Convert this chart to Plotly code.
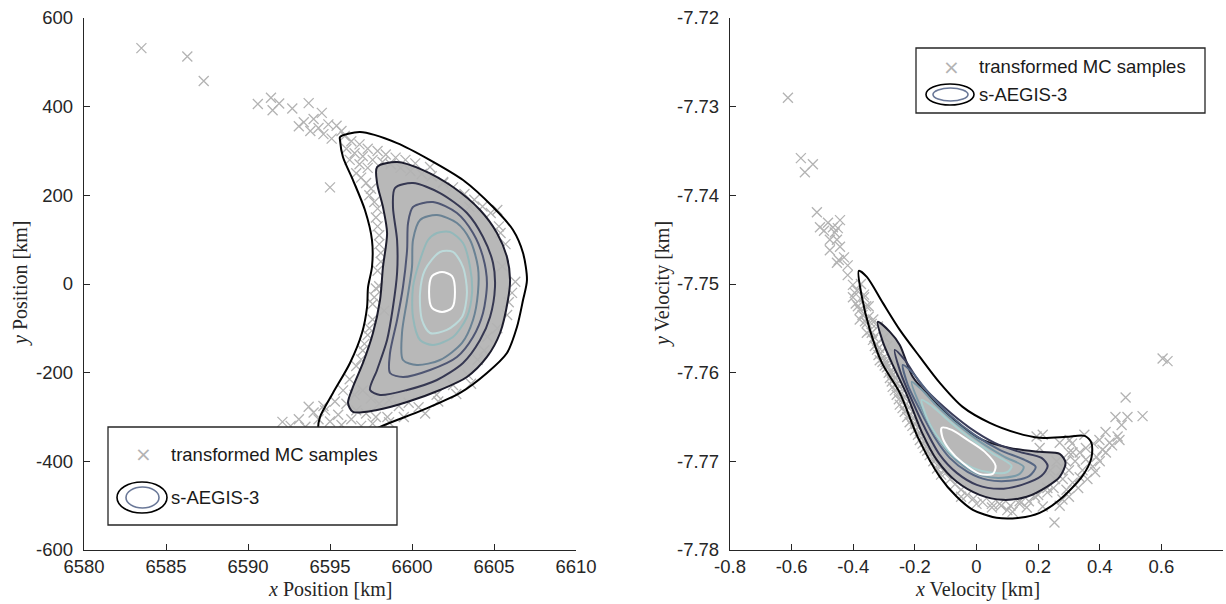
import plotly.graph_objects as go

# ---------------- Left panel: position ----------------
pos_sample_x = [6583.5, 6586.3, 6587.3, 6590.6, 6591.4, 6591.5, 6591.9, 6592.7, 6593.7, 6594.5, 6593.1, 6593.4,
                6594.0, 6593.8, 6594.3, 6594.9, 6595.4, 6595.7, 6594.6, 6595.1, 6595.9, 6595.0,
                6596.3, 6596.8, 6597.3, 6597.9, 6598.4, 6599.0, 6599.6, 6600.2, 6596.0, 6596.5, 6597.0, 6597.6,
                6598.2, 6596.2, 6596.8, 6597.3, 6596.6, 6596.9, 6597.2, 6597.5, 6597.4, 6597.7, 6598.7, 6599.3,
                6599.9, 6600.6, 6601.2, 6601.9, 6602.5, 6603.2, 6603.8, 6604.3, 6604.8, 6605.3, 6605.4, 6605.7,
                6601.1, 6601.9, 6603.5, 6605.2,
                6606.3, 6605.9, 6606.1, 6605.5, 6605.8, 6605.2, 6604.6, 6604.0, 6604.4, 6603.4, 6602.5, 6601.5,
                6597.8, 6598.0, 6598.1, 6597.9, 6597.8, 6597.6, 6597.6, 6597.3, 6597.0, 6596.6, 6596.2, 6595.8,
                6595.3, 6594.7, 6594.3, 6598.0, 6598.3,
                6596.5, 6597.0, 6597.5, 6598.0, 6598.6, 6599.2, 6599.8, 6600.4, 6596.0, 6596.6, 6597.2, 6597.8,
                6598.5, 6595.5, 6595.0, 6595.7, 6596.3, 6592.1, 6593.1, 6593.7, 6594.0, 6594.6, 6593.5, 6592.6,
                6596.9, 6597.6, 6598.6, 6599.5, 6600.8, 6601.6, 6602.7, 6603.6,
                6597.9, 6598.0, 6597.7, 6597.4, 6597.1, 6596.9, 6598.1, 6597.9]
pos_sample_y = [532, 513, 458, 406, 420, 392, 407, 396, 408, 386, 356, 365,
                372, 345, 352, 360, 357, 345, 338, 328, 334, 218,
                322, 315, 305, 300, 292, 285, 280, 272, 305, 295, 288, 280,
                275, 280, 270, 262, 250, 240, 228, 215, 200, 185, 270, 262,
                255, 248, 243, 230, 218, 203, 190, 175, 160, 130, 115, 90,
                264, 228, 174, 167,
                5, -41, -20, 40, -70, -100, -119, -171, -150, -205, -228, -250,
                150, 110, 70, 30, -10, -45, -80, -115, -150, -185, -215, -240,
                -265, -285, -305, -5, -60,
                -250, -240, -258, -270, -262, -275, -268, -278, -270, -285, -292, -300,
                -300, -295, -310, -318, -305, -311, -305, -277, -290, -275, -322, -320,
                -320, -315, -312, -300, -292, -265, -248, -225,
                130, 90, -30, -100, -135, -170, 50, 170]

# density contour levels (outer -> inner)
pos_levels_x = [
    [6595.61, 6596.83, 6599.09, 6601.10, 6603.11, 6604.94, 6606.16, 6606.77, 6607.01, 6606.77, 6606.40, 6605.79,
     6604.57, 6602.93, 6600.67, 6598.05, 6596.83, 6595.30, 6594.39, 6594.27, 6594.39, 6595.18, 6596.22, 6596.95,
     6597.26, 6597.32, 6597.56, 6597.56, 6597.13, 6596.40, 6595.79, 6595.61],
    [6597.87, 6599.09, 6600.67, 6602.50, 6604.15, 6605.18, 6605.79, 6605.98, 6605.85, 6605.37, 6604.57, 6603.35,
     6601.71, 6599.70, 6597.87, 6596.40, 6596.10, 6596.40, 6597.01, 6597.62, 6598.05, 6598.23, 6598.48, 6598.23,
     6597.87],
    [6598.96, 6600.06, 6601.71, 6603.35, 6604.33, 6604.94, 6605.06, 6604.76, 6604.15, 6603.11, 6601.52, 6599.70,
     6598.05, 6597.44, 6597.87, 6598.48, 6598.84, 6599.09, 6599.09, 6598.84],
    [6600.06, 6601.28, 6602.74, 6603.72, 6604.33, 6604.57, 6604.33, 6603.72, 6602.74, 6601.10, 6599.45, 6598.66,
     6598.66, 6599.09, 6599.45, 6599.70, 6599.76],
    [6600.49, 6601.52, 6602.74, 6603.54, 6604.02, 6604.02, 6603.72, 6603.05, 6601.71, 6600.30, 6599.45, 6599.39,
     6599.70, 6600.00, 6600.06],
    [6601.52, 6602.32, 6603.11, 6603.54, 6603.66, 6603.35, 6602.50, 6601.28, 6600.49, 6600.06, 6600.06, 6600.49,
     6600.98],
    [6601.71, 6602.50, 6603.11, 6603.35, 6603.05, 6602.13, 6601.10, 6600.61, 6600.49, 6600.79],
    [6601.83, 6602.44, 6602.62, 6602.44, 6601.83, 6601.22, 6601.04, 6601.22],
]
pos_levels_y = [
    [331.5, 342.7, 317.9, 279.6, 234.5, 173.6, 121.8, 69.9, 9.0, -36.1, -97.0, -155.6,
     -200.7, -245.8, -284.1, -322.4, -347, -363, -352, -329, -299.9, -245.8, -178.1, -110.5,
     -51.9, -6.8, 38.3, 99.2, 166.9, 234.5, 286.4, 324.7],
    [263.8, 275.1, 257.0, 218.7, 166.9, 115.0, 60.9, 9.0, -36.1, -110.5, -164.6, -209.7,
     -239.0, -266.1, -284.1, -288.6, -268.3, -232.2, -178.1, -110.5, -36.1, 38.3, 115.0, 173.6,
     227.7],
    [216.5, 227.7, 205.2, 160.1, 106.0, 47.4, -6.8, -74.4, -126.3, -178.1, -216.5, -239.0,
     -250.3, -239.0, -193.9, -126.3, -51.9, 24.8, 99.2, 173.6],
    [173.6, 184.9, 160.1, 115.0, 60.9, 2.3, -65.4, -119.5, -164.6, -193.9, -209.7, -200.7,
     -155.6, -81.2, -6.8, 76.7, 137.5],
    [144.3, 155.6, 137.5, 99.2, 38.3, -20.3, -81.2, -133.0, -171.4, -182.6, -171.4, -110.5,
     -36.1, 38.3, 99.2],
    [115.0, 117.3, 92.4, 38.3, -20.3, -74.4, -119.5, -137.5, -126.3, -74.4, -6.8, 54.1,
     99.2],
    [72.2, 72.2, 38.3, -20.3, -74.4, -103.7, -110.5, -81.2, -20.3, 31.6],
    [27.1, 18.0, -18.0, -54.1, -63.1, -54.1, -18.0, 18.0],
]
pos_level_colors = ["#000000", "#1d1d2e", "#363852", "#4f5673", "#6a8294", "#93b8ba", "#bcdada", "#ffffff"]

# ---------------- Right panel: velocity ----------------
vel_sample_x = [-0.612, -0.570, -0.557, -0.531, -0.518, -0.508, -0.482, -0.466, -0.443, -0.450, -0.476, -0.453,
                -0.443, -0.476, -0.453, -0.447, -0.418, -0.418, -0.401, -0.388, -0.430, -0.460, -0.495,
                -0.395, -0.401, -0.392, -0.385, -0.379, -0.379, -0.370, -0.362, -0.356, -0.356, -0.345, -0.336,
                -0.330, -0.323, -0.318, -0.314, -0.305, -0.298, -0.291, -0.285, -0.281, -0.275, -0.272, -0.265,
                -0.259, -0.252, -0.249, -0.240, -0.233, -0.225, -0.217, -0.208, -0.200, -0.190, -0.184, -0.175,
                -0.168, -0.160, -0.152, -0.140, -0.128, -0.115,
                -0.365, -0.350, -0.335, -0.320, -0.300, -0.290, -0.275, -0.260,
                -0.340, -0.325, -0.310, -0.295, -0.280, -0.265, -0.250, -0.235, -0.220, -0.205, -0.190, -0.175,
                -0.160, -0.145, -0.130, -0.115, -0.100, -0.085, -0.070, -0.050, -0.030, -0.010, 0.020, 0.050,
                0.080, 0.110, 0.140, 0.170, 0.200, 0.230, 0.255, 0.275, 0.290, 0.300, 0.310,
                -0.375, -0.365, -0.358, -0.350, -0.340,
                -0.332, -0.317, -0.302, -0.287, -0.272, -0.257, -0.242, -0.227, -0.212, -0.197, -0.182, -0.167,
                -0.152, -0.137, -0.122, -0.107,
                -0.050, 0.000, 0.050, 0.100, 0.117, 0.163, 0.215, 0.075, 0.140, 0.190, 0.230,
                0.604, 0.620, 0.484, 0.451, 0.490, 0.539, 0.471, 0.419, 0.458, 0.399, 0.432, 0.464,
                0.409, 0.390, 0.367, 0.377, 0.344, 0.355, 0.335, 0.312, 0.292, 0.279, 0.253, 0.195,
                0.215, 0.205, 0.270, 0.302, 0.312, 0.335, 0.355, 0.380, 0.400, 0.385, 0.360, 0.330,
                0.300, 0.270, 0.420, 0.440, 0.350, 0.320, 0.300, 0.280, 0.250, 0.260, 0.240]
vel_sample_y = [-7.7290, -7.7358, -7.7374, -7.7365, -7.7419, -7.7436, -7.7431, -7.7436, -7.7428, -7.7437, -7.7450, -7.7450,
                -7.7458, -7.7462, -7.7476, -7.7473, -7.7479, -7.7490, -7.7501, -7.7507, -7.7470, -7.7442, -7.7440,
                -7.7510, -7.7515, -7.7522, -7.7525, -7.7529, -7.7540, -7.7535, -7.7542, -7.7544, -7.7555, -7.7552, -7.7563,
                -7.7570, -7.7574, -7.7580, -7.7586, -7.7588, -7.7592, -7.7594, -7.7600, -7.7606, -7.7610, -7.7616, -7.7620,
                -7.7625, -7.7630, -7.7636, -7.7640, -7.7644, -7.7650, -7.7656, -7.7660, -7.7665, -7.7670, -7.7676, -7.7680,
                -7.7685, -7.7688, -7.7693, -7.7700, -7.7708, -7.7715,
                -7.7515, -7.7525, -7.7540, -7.7548, -7.7560, -7.7570, -7.7585, -7.7595,
                -7.7555, -7.7568, -7.7578, -7.7588, -7.7598, -7.7606, -7.7616, -7.7628, -7.7640, -7.7652, -7.7662, -7.7672,
                -7.7682, -7.7690, -7.7698, -7.7706, -7.7713, -7.7720, -7.7726, -7.7732, -7.7738, -7.7742, -7.7746, -7.7748,
                -7.7750, -7.7750, -7.7748, -7.7745, -7.7738, -7.7730, -7.7720, -7.7710, -7.7700, -7.7690, -7.7680,
                -7.7500, -7.7512, -7.7525, -7.7537, -7.7545,
                -7.7560, -7.7572, -7.7583, -7.7593, -7.7602, -7.7612, -7.7623, -7.7635, -7.7647, -7.7658, -7.7668, -7.7678,
                -7.7687, -7.7695, -7.7703, -7.7710,
                -7.7740, -7.7748, -7.7752, -7.7755, -7.7757, -7.7752, -7.7751, -7.7748, -7.7745, -7.7740, -7.7735,
                -7.7584, -7.7587, -7.7628, -7.7650, -7.7650, -7.7649, -7.7659, -7.7667, -7.7672, -7.7676, -7.7679, -7.7676,
                -7.7687, -7.7695, -7.7702, -7.7706, -7.7710, -7.7698, -7.7718, -7.7724, -7.7732, -7.7743, -7.7769, -7.7672,
                -7.7670, -7.7685, -7.7679, -7.7676, -7.7690, -7.7690, -7.7685, -7.7680, -7.7700, -7.7712, -7.7720, -7.7730,
                -7.7740, -7.7750, -7.7690, -7.7682, -7.7670, -7.7700, -7.7710, -7.7720, -7.7730, -7.7700, -7.7710]

vel_levels_x = [
    [-0.382, -0.356, -0.304, -0.249, -0.184, -0.119, -0.045, 0.043, 0.130, 0.205, 0.292, 0.351, 0.373, 0.373,
     0.344, 0.270, 0.205, 0.140, 0.065, -0.012, -0.064, -0.119, -0.191, -0.249, -0.307, -0.346, -0.372],
    [-0.320, -0.281, -0.249, -0.207, -0.142, -0.064, 0.020, 0.108, 0.205, 0.270, 0.289, 0.270, 0.228, 0.163,
     0.085, 0.010, -0.064, -0.129, -0.178, -0.226, -0.272, -0.304],
    [-0.265, -0.233, -0.178, -0.103, -0.022, 0.059, 0.140, 0.211, 0.231, 0.211, 0.147, 0.075, 0.001, -0.064,
     -0.119, -0.168, -0.210, -0.246],
    [-0.239, -0.210, -0.158, -0.087, -0.006, 0.075, 0.156, 0.192, 0.172, 0.108, 0.036, -0.029, -0.087, -0.135,
     -0.184, -0.223],
    [-0.210, -0.184, -0.132, -0.061, 0.017, 0.091, 0.153, 0.140, 0.085, 0.020, -0.038, -0.093, -0.142, -0.184],
    [-0.178, -0.145, -0.093, -0.022, 0.049, 0.114, 0.101, 0.049, -0.012, -0.071, -0.119, -0.158],
    [-0.113, -0.080, -0.029, 0.027, 0.062, 0.053, 0.010, -0.045, -0.087, -0.110],
]
vel_levels_y = [
    [-7.74852, -7.74920, -7.75213, -7.75517, -7.75822, -7.76115, -7.76386, -7.76566, -7.76679, -7.76735, -7.76724,
     -7.76713, -7.76791, -7.76961, -7.77164, -7.77434, -7.77581, -7.77637, -7.77637, -7.77547, -7.77400, -7.77175,
     -7.76724, -7.76228, -7.75890, -7.75517, -7.75145],
    [-7.75427, -7.75540, -7.75687, -7.76047, -7.76307, -7.76566, -7.76758, -7.76848, -7.76893, -7.76915, -7.77017,
     -7.77175, -7.77287, -7.77400, -7.77434, -7.77378, -7.77231, -7.76983, -7.76667, -7.76250, -7.75912, -7.75653],
    [-7.75743, -7.75856, -7.76138, -7.76397, -7.76622, -7.76791, -7.76893, -7.76961, -7.77051, -7.77164, -7.77265,
     -7.77310, -7.77265, -7.77130, -7.76927, -7.76622, -7.76307, -7.76002],
    [-7.75912, -7.75991, -7.76216, -7.76476, -7.76701, -7.76870, -7.76983, -7.77062, -7.77164, -7.77220, -7.77209,
     -7.77118, -7.76961, -7.76735, -7.76419, -7.76138],
    [-7.76104, -7.76171, -7.76363, -7.76588, -7.76791, -7.76949, -7.77062, -7.77141, -7.77186, -7.77164, -7.77062,
     -7.76893, -7.76645, -7.76363],
    [-7.76307, -7.76374, -7.76532, -7.76735, -7.76904, -7.77051, -7.77118, -7.77130, -7.77073, -7.76949, -7.76758,
     -7.76532],
    [-7.76622, -7.76645, -7.76758, -7.76893, -7.77051, -7.77141, -7.77141, -7.77017, -7.76870, -7.76735],
]
vel_level_colors = ["#000000", "#1d1d2e", "#3a3d5a", "#566683", "#7a9aa8", "#a9cfcf", "#ffffff"]

pos_xticks = [6580, 6585, 6590, 6595, 6600, 6605, 6610]
pos_yticks = [-600, -400, -200, 0, 200, 400, 600]
pos_yticktext = ["-600", "-400", "-200", "0", "200", "400", "600"]
vel_xticks = [-0.8, -0.6, -0.4, -0.2, 0, 0.2, 0.4, 0.6]
vel_xticktext = ["-0.8", "-0.6", "-0.4", "-0.2", "0", "0.2", "0.4", "0.6"]
vel_yticks = [-7.78, -7.77, -7.76, -7.75, -7.74, -7.73, -7.72]
vel_yticktext = ["-7.78", "-7.77", "-7.76", "-7.75", "-7.74", "-7.73", "-7.72"]

W, H = 1226, 604
SAMPLE_GRAY = "#b3b3b3"
CORE_GRAY = "#b8b8b8"
AX = "#262626"


def closed(seq):
    return list(seq) + [seq[0]]


fig = go.Figure()


def add_panel(sx, sy, lx, ly, colors, xa, ya, fill_level=1):
    # dense core of samples
    fig.add_trace(go.Scatter(x=closed(lx[fill_level]), y=closed(ly[fill_level]), mode="lines",
                             line=dict(width=0.5, shape="spline", smoothing=0.8, color=CORE_GRAY),
                             fill="toself", fillcolor=CORE_GRAY, hoverinfo="skip",
                             showlegend=False, xaxis=xa, yaxis=ya))
    fig.add_trace(go.Scatter(x=sx, y=sy, mode="markers",
                             marker=dict(symbol="x-thin", size=10, color=SAMPLE_GRAY,
                                         line=dict(width=1.3, color=SAMPLE_GRAY)),
                             showlegend=False, xaxis=xa, yaxis=ya))
    for cx, cy, col in zip(lx, ly, colors):
        fig.add_trace(go.Scatter(x=closed(cx), y=closed(cy), mode="lines",
                                 line=dict(width=2, color=col, shape="spline", smoothing=0.8),
                                 showlegend=False, hoverinfo="skip", xaxis=xa, yaxis=ya))


add_panel(pos_sample_x, pos_sample_y, pos_levels_x, pos_levels_y, pos_level_colors, "x", "y")
add_panel(vel_sample_x, vel_sample_y, vel_levels_x, vel_levels_y, vel_level_colors, "x2", "y2")

tickfont = dict(family="Liberation Sans, Arial, sans-serif", size=18.5, color=AX)
axis_common = dict(showgrid=False, zeroline=False, showline=True, linecolor=AX, linewidth=1.3,
                   ticks="inside", ticklen=6, tickcolor=AX, tickwidth=1, tickfont=tickfont,
                   mirror=False, fixedrange=True, automargin=False)

ydom = [(H - 550) / H, (H - 18) / H]
fig.update_layout(
    width=W, height=H, margin=dict(l=0, r=0, t=0, b=0, autoexpand=False),
    paper_bgcolor="white", plot_bgcolor="white", showlegend=False,
    xaxis=dict(domain=[84 / W, 576 / W], range=[6580, 6610], tickvals=pos_xticks,
               ticktext=[str(v) for v in pos_xticks], anchor="y", **axis_common),
    yaxis=dict(domain=ydom, range=[-600, 600], tickvals=pos_yticks, ticktext=pos_yticktext,
               anchor="x", ticklabelstandoff=6, **axis_common),
    xaxis2=dict(domain=[730 / W, 1223 / W], range=[-0.8, 0.8], tickvals=vel_xticks,
                ticktext=vel_xticktext, anchor="y2", **axis_common),
    yaxis2=dict(domain=ydom, range=[-7.78, -7.72], tickvals=vel_yticks, ticktext=vel_yticktext,
                anchor="x2", ticklabelstandoff=6, **axis_common),
)


def px(x):
    return x / W


def py(y):
    return 1 - y / H


serif = dict(family="Liberation Serif, Times New Roman, serif", size=20, color=AX)
annots = [
    dict(x=px(330), y=py(589), text="<i>x</i> Position [km]"),
    dict(x=px(20), y=py(284), text="<i>y</i> Position [km]", textangle=-90),
    dict(x=px(977), y=py(589), text="<i>x</i> Velocity [km]"),
    dict(x=px(662), y=py(284), text="<i>y</i> Velocity [km]", textangle=-90),
]
for a in annots:
    fig.add_annotation(xref="paper", yref="paper", showarrow=False, font=serif,
                       xanchor="center", yanchor="middle", **a)

# legends (drawn by hand to get the ellipse icon)
legend_font = dict(family="Liberation Sans, Arial, sans-serif", size=18.5, color="#1a1a1a")


def add_legend(box, mark_xy, text1_xy, outer_e, inner_e, text2_xy):
    x0, y0, x1, y1 = box
    fig.add_shape(type="rect", xref="paper", yref="paper", x0=px(x0), x1=px(x1), y0=py(y0), y1=py(y1),
                  line=dict(color=AX, width=1.3), fillcolor="white", layer="above")
    ex0, ey0, ex1, ey1 = outer_e
    fig.add_shape(type="circle", xref="paper", yref="paper", x0=px(ex0), x1=px(ex1), y0=py(ey0), y1=py(ey1),
                  line=dict(color="#000000", width=1.6), layer="above")
    ix0, iy0, ix1, iy1 = inner_e
    fig.add_shape(type="circle", xref="paper", yref="paper", x0=px(ix0), x1=px(ix1), y0=py(iy0), y1=py(iy1),
                  line=dict(color="#6a7898", width=1.6), layer="above")
    fig.add_annotation(xref="paper", yref="paper", x=px(mark_xy[0]), y=py(mark_xy[1]), text="×",
                       showarrow=False, xanchor="center", yanchor="middle",
                       font=dict(family="DejaVu Sans, sans-serif", size=20, color=SAMPLE_GRAY))
    fig.add_annotation(xref="paper", yref="paper", x=px(text1_xy[0]), y=py(text1_xy[1]),
                       text="transformed MC samples", showarrow=False, xanchor="left", yanchor="middle",
                       font=legend_font)
    fig.add_annotation(xref="paper", yref="paper", x=px(text2_xy[0]), y=py(text2_xy[1]),
                       text="s-AEGIS-3", showarrow=False, xanchor="left", yanchor="middle",
                       font=legend_font)


add_legend((108, 427, 397, 525), (143, 454), (169, 454), (117, 482, 167, 513), (126, 487, 159, 508), (169, 497))
add_legend((916, 48, 1205, 113), (951, 67), (977, 67), (926, 84, 974, 105), (933, 88, 968, 101), (977, 95))

fig.write_html("out.html")
